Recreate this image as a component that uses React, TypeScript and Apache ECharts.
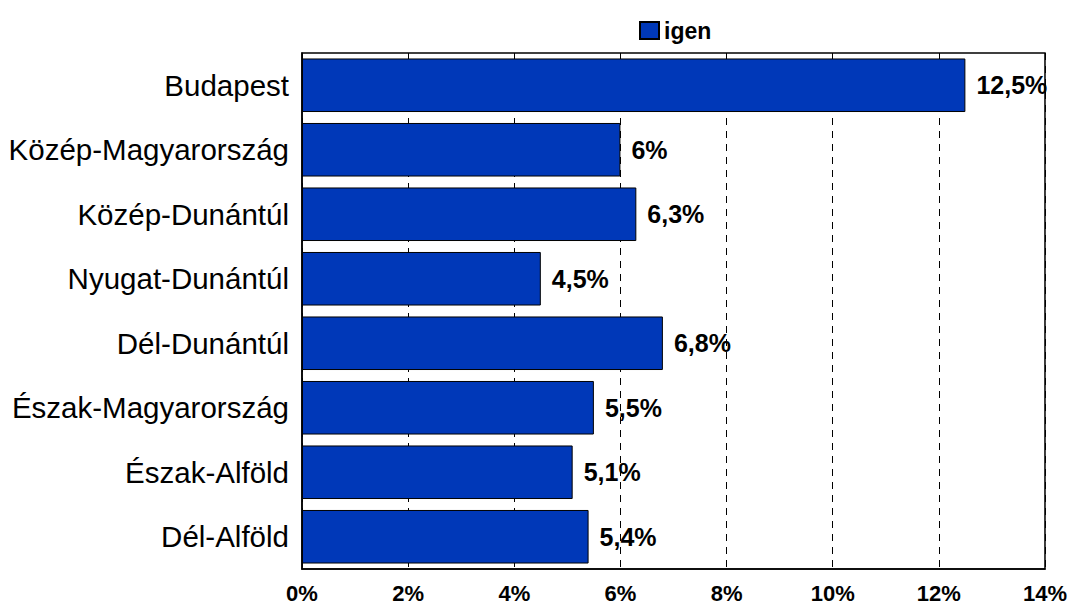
import React, { useEffect, useRef } from "react";
import * as echarts from "echarts";

const categories = [
  "Budapest",
  "Közép-Magyarország",
  "Közép-Dunántúl",
  "Nyugat-Dunántúl",
  "Dél-Dunántúl",
  "Észak-Magyarország",
  "Észak-Alföld",
  "Dél-Alföld",
];
const igenValues = [12.5, 6, 6.3, 4.5, 6.8, 5.5, 5.1, 5.4];
const seriesName = "igen";
const xMin = 0;
const xMax = 14;
const xInterval = 2;

const fmt = (v: number) => String(v).replace(".", ",") + "%";

export default function App() {
  const ref = useRef<HTMLDivElement>(null);
  useEffect(() => {
    if (!ref.current) return;
    const chart = echarts.init(ref.current, null, { renderer: "svg" });
    chart.setOption({
      animation: false,
      textStyle: { fontFamily: "Liberation Sans, Arial, sans-serif" },
      legend: {
        data: [{ name: seriesName, icon: "rect" }],
        left: 634,
        top: 14,
        itemWidth: 19,
        itemHeight: 17,
        textStyle: {
          fontSize: 23,
          fontWeight: "bold",
          color: "#000",
          fontFamily: "Liberation Sans, Arial, sans-serif",
        },
      },
      grid: {
        left: 302,
        right: 23,
        top: 53,
        bottom: 33,
        show: true,
        borderColor: "#000",
        borderWidth: 1.5,
        containLabel: false,
      },
      xAxis: {
        type: "value",
        min: xMin,
        max: xMax,
        interval: xInterval,
        axisLine: { show: true, lineStyle: { color: "#000", width: 1.5 } },
        axisTick: { show: false },
        splitLine: {
          show: true,
          lineStyle: { color: "#000", type: [7, 6], width: 1 },
        },
        axisLabel: {
          formatter: (v: number) => v + "%",
          fontSize: 22,
          fontWeight: "bold",
          color: "#000",
          margin: 13,
          fontFamily: "Liberation Sans, Arial, sans-serif",
        },
      },
      yAxis: {
        type: "category",
        data: categories,
        inverse: true,
        axisLine: { show: true, lineStyle: { color: "#000", width: 1.5 } },
        axisTick: { show: false },
        axisLabel: {
          fontSize: 29.5,
          color: "#000",
          margin: 13,
          fontFamily: "Liberation Sans, Arial, sans-serif",
        },
      },
      series: [
        {
          name: seriesName,
          type: "bar",
          data: igenValues,
          barCategoryGap: "17%",
          itemStyle: { color: "#0038B8", borderColor: "#000", borderWidth: 1 },
          label: {
            show: true,
            position: "right",
            distance: 11,
            formatter: (p: any) => fmt(p.value),
            fontSize: 25,
            fontWeight: "bold",
            color: "#000",
            fontFamily: "Liberation Sans, Arial, sans-serif",
          },
        },
      ],
    });
    return () => chart.dispose();
  }, []);
  return <div ref={ref} style={{ width: 1070, height: 604, position: "absolute", left: 0, top: 0 }} />;
}
